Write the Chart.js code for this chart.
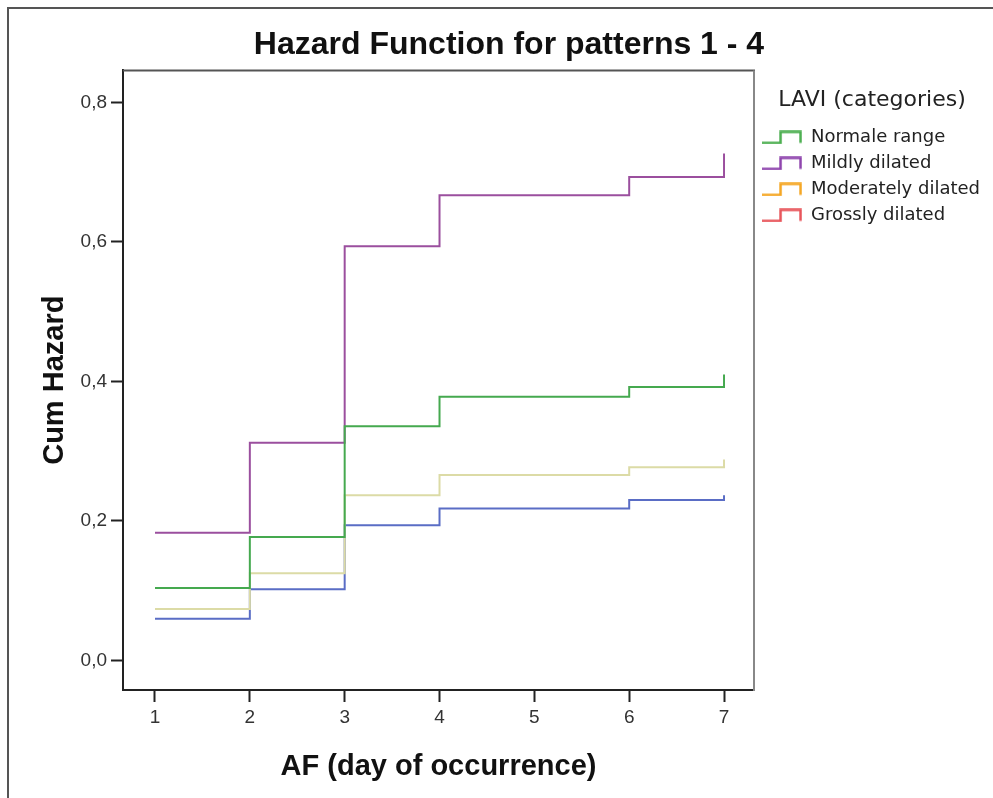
<!DOCTYPE html>
<html><head><meta charset="utf-8">
<script src="https://cdn.jsdelivr.net/npm/chart.js@4"></script>
<style>
html,body{margin:0;padding:0;background:#fff;width:993px;height:798px;overflow:hidden;}
#frame{position:absolute;left:7px;top:7px;right:-5px;bottom:-5px;border-top:2px solid #555;border-left:2px solid #555;}
#wrap{position:absolute;left:28px;top:0;width:965px;height:798px;}
</style></head><body>
<div id="frame"></div>
<div id="wrap"><canvas id="c" width="965" height="798"></canvas></div>
<script>
const days = [1, 2, 3, 4, 6, 7];
const categories = ['Normale range', 'Mildly dilated', 'Moderately dilated', 'Grossly dilated'];
const normaleRange = [0.104, 0.177, 0.336, 0.378, 0.392, 0.410];
const mildlyDilated = [0.183, 0.312, 0.594, 0.667, 0.693, 0.727];
const moderatelyDilated = [0.074, 0.125, 0.237, 0.266, 0.277, 0.288];
const grosslyDilated = [0.060, 0.102, 0.194, 0.218, 0.230, 0.237];
const xTickValues = [1, 2, 3, 4, 5, 6, 7];
const yTickValues = [0, 0.2, 0.4, 0.6, 0.8];

const seriesValues = [normaleRange, mildlyDilated, moderatelyDilated, grosslyDilated];
const lineColors = ['#45a94f', '#9b4f9e', '#dcdba6', '#5a6dc5'];
const legendColors = ['#4caf50', '#8e44ad', '#f5a623', '#e8545a'];

function stepIcon(color) {
  const c = document.createElement('canvas');
  c.width = 40; c.height = 14;
  const g = c.getContext('2d');
  g.strokeStyle = color; g.lineWidth = 2.5;
  g.beginPath();
  g.moveTo(0, 12.5); g.lineTo(18.5, 12.5); g.lineTo(18.5, 1.5); g.lineTo(38.5, 1.5); g.lineTo(38.5, 12.5);
  g.stroke();
  return c;
}

const frameLines = {
  id: 'frameLines',
  afterDatasetsDraw(chart) {
    const {ctx, chartArea: a} = chart;
    ctx.save();
    ctx.lineWidth = 2;
    ctx.strokeStyle = '#555';
    ctx.beginPath(); ctx.moveTo(a.left, a.top); ctx.lineTo(a.right + 1, a.top); ctx.stroke();
    ctx.strokeStyle = '#888';
    ctx.beginPath(); ctx.moveTo(a.right, a.top); ctx.lineTo(a.right, a.bottom + 1); ctx.stroke();
    ctx.restore();
  }
};

const datasets = categories.map((name, i) => ({
  label: name,
  data: days.map((d, j) => ({x: d, y: seriesValues[i][j]})),
  borderColor: lineColors[i],
  backgroundColor: lineColors[i],
  borderWidth: 2,
  pointRadius: 0,
  stepped: 'before',
  fill: false
}));

new Chart(document.getElementById('c'), {
  type: 'line',
  data: {datasets},
  plugins: [frameLines],
  options: {
    responsive: false,
    animation: false,
    devicePixelRatio: 1,
    layout: {padding: {left: 0, right: 3, top: 0, bottom: 0}},
    plugins: {
      title: {
        display: true,
        text: 'Hazard Function for patterns 1 - 4',
        color: '#111',
        font: {family: 'Liberation Sans', size: 32, weight: 'bold'},
        padding: {top: 26, bottom: 6}
      },
      legend: {
        display: true,
        position: 'right',
        align: 'start',
        title: {
          display: true,
          text: 'LAVI (categories)',
          color: '#222',
          font: {family: 'DejaVu Sans', size: 22},
          padding: {top: 89, bottom: 5}
        },
        labels: {
          usePointStyle: true,
          pointStyleWidth: 40,
          padding: 8,
          color: '#222',
          font: {family: 'DejaVu Sans', size: 18},
          generateLabels: (chart) => categories.map((name, i) => ({
            text: name,
            pointStyle: stepIcon(legendColors[i]),
            fillStyle: legendColors[i],
            strokeStyle: legendColors[i],
            fontColor: '#222',
            lineWidth: 0,
            hidden: false,
            datasetIndex: i
          }))
        }
      },
      tooltip: {enabled: false}
    },
    scales: {
      x: {
        type: 'linear',
        min: 0.6626,
        max: 7.316,
        afterBuildTicks: (s) => { s.ticks = xTickValues.map(v => ({value: v})); },
        afterFit: (s) => { s.height = 108; },
        grid: {display: true, drawOnChartArea: false, drawTicks: true, tickLength: 12, tickWidth: 2, tickColor: '#222'},
        border: {display: true, color: '#222', width: 2},
        ticks: {autoSkip: false, maxRotation: 0, color: '#333', padding: 4,
          font: {family: 'Liberation Sans', size: 19},
          callback: (v) => String(v)},
        title: {display: true, text: 'AF (day of occurrence)', color: '#111',
          font: {family: 'Liberation Sans', size: 29, weight: 'bold'},
          padding: {top: 0, bottom: 14}}
      },
      y: {
        type: 'linear',
        min: -0.0423,
        max: 0.846,
        afterBuildTicks: (s) => { s.ticks = yTickValues.map(v => ({value: v})); },
        afterFit: (s) => { s.width = 95; },
        grid: {display: true, drawOnChartArea: false, drawTicks: true, tickLength: 12, tickWidth: 2, tickColor: '#222'},
        border: {display: true, color: '#222', width: 2},
        ticks: {autoSkip: false, color: '#333', padding: 4,
          font: {family: 'Liberation Sans', size: 19},
          callback: (v) => Number(v).toFixed(1).replace('.', ',')},
        title: {display: true, text: 'Cum Hazard', color: '#111',
          font: {family: 'Liberation Sans', size: 29, weight: 'bold'},
          padding: {top: 10, bottom: 0}}
      }
    }
  }
});
</script>
</body></html>
